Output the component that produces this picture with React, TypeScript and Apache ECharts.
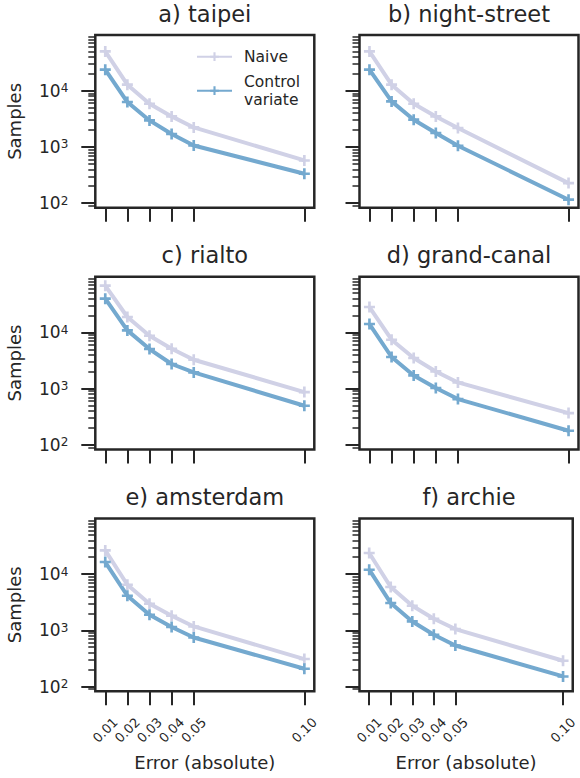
import React, { useEffect, useRef } from 'react';
import * as echarts from 'echarts';

const FONT = 'DejaVu Sans';
const INK = '#262626';
const NAIVE_COLOR = '#d0d1e6';
const CV_COLOR = '#74a9cf';

// x values (absolute error) and tick labels
const ERRORS = [0.01, 0.02, 0.03, 0.04, 0.05, 0.1];
const X_TICKS = [0.01, 0.02, 0.03, 0.04, 0.05, 0.1];
const Y_MAJOR_TICKS = [100, 1000, 10000];
const Y_MINOR_TICKS = [
  90,
  200, 300, 400, 500, 600, 700, 800, 900,
  2000, 3000, 4000, 5000, 6000, 7000, 8000, 9000,
  20000, 30000, 40000, 50000, 60000, 70000, 80000, 90000,
];

const TITLES = ['a) taipei', 'b) night-street', 'c) rialto', 'd) grand-canal', 'e) amsterdam', 'f) archie'];

// samples needed, per scene
const NAIVE_TAIPEI = [50100, 12800, 5870, 3490, 2220, 574];
const CV_TAIPEI = [23700, 6290, 2960, 1694, 1061, 333];
const NAIVE_NIGHT_STREET = [50100, 12800, 5870, 3490, 2170, 227];
const CV_NIGHT_STREET = [23700, 6450, 3050, 1765, 1048, 115];
const NAIVE_RIALTO = [67900, 18800, 8730, 5125, 3265, 868];
const CV_RIALTO = [39800, 10860, 5060, 2740, 1940, 495];
const NAIVE_GRAND_CANAL = [28300, 7410, 3500, 2020, 1287, 367];
const CV_GRAND_CANAL = [14100, 3650, 1715, 1023, 651, 178];
const NAIVE_AMSTERDAM = [26400, 6470, 2970, 1816, 1171, 308];
const CV_AMSTERDAM = [16400, 4120, 1892, 1143, 746, 207];
const NAIVE_ARCHIE = [23770, 5890, 2737, 1606, 1052, 287];
const CV_ARCHIE = [11980, 3055, 1438, 833, 537, 151];

const NAIVE = [NAIVE_TAIPEI, NAIVE_NIGHT_STREET, NAIVE_RIALTO, NAIVE_GRAND_CANAL, NAIVE_AMSTERDAM, NAIVE_ARCHIE];
const CV = [CV_TAIPEI, CV_NIGHT_STREET, CV_RIALTO, CV_GRAND_CANAL, CV_AMSTERDAM, CV_ARCHIE];

// layout
const GRID_LEFT = [95.3, 359.5];
const GRID_TOP = [35, 276.7, 518.4];
const GRID_W = 219;
const GRID_H = 172.8;
const TITLE_CENTER = [13.5, 255.2, 496.9];
const X_MIN = 0.0055;
const X_MAX = 0.1045;
const Y_MIN = 82.5;
const Y_MAX = 98000;

const PLUS = 'path://M-1.2,-5H1.2V-1.2H5V1.2H1.2V5H-1.2V1.2H-5V-1.2H-1.2Z';

function buildOption() {
  const grid: any[] = [];
  const xAxis: any[] = [];
  const yAxis: any[] = [];
  const series: any[] = [];
  const title: any[] = [];

  TITLES.forEach((t, i) => {
    const row = Math.floor(i / 2);
    const col = i % 2;
    const left = GRID_LEFT[col];
    const top = GRID_TOP[row];
    const bottomRow = row === 2;
    const leftCol = col === 0;

    grid.push({
      left,
      top,
      width: GRID_W,
      height: GRID_H,
      show: true,
      borderColor: INK,
      borderWidth: 2.5,
      backgroundColor: 'transparent',
    });

    title.push({
      text: t,
      left: left + GRID_W / 2,
      top: TITLE_CENTER[row] - 11,
      textAlign: 'center',
      padding: 0,
      textStyle: { fontFamily: FONT, fontSize: 22.5, fontWeight: 'normal', color: INK, lineHeight: 22 },
    });

    xAxis.push({
      type: 'value',
      gridIndex: i,
      position: 'bottom',
      min: X_MIN,
      max: X_MAX,
      axisLine: { show: false },
      splitLine: { show: false },
      axisTick: { show: true, length: 14, customValues: X_TICKS, lineStyle: { color: INK, width: 2 } },
      axisLabel: {
        show: bottomRow,
        customValues: X_TICKS,
        formatter: (v: number) => v.toFixed(2),
        rotate: 45,
        align: 'center',
        verticalAlign: 'middle',
        margin: 39,
        fontFamily: FONT,
        fontSize: 13,
        color: INK,
      },
      name: bottomRow ? 'Error (absolute)' : '',
      nameLocation: 'middle',
      nameGap: 62,
      nameTextStyle: { fontFamily: FONT, fontSize: 18, color: INK },
    });

    yAxis.push({
      type: 'log',
      logBase: 10,
      gridIndex: i,
      position: 'left',
      min: Y_MIN,
      max: Y_MAX,
      axisLine: { show: false },
      splitLine: { show: false },
      minorTick: { show: false },
      axisTick: { show: true, length: 14, customValues: Y_MAJOR_TICKS, lineStyle: { color: INK, width: 2 } },
      axisLabel: {
        show: leftCol,
        customValues: Y_MAJOR_TICKS,
        formatter: (v: number) => '10{sup|' + Math.round(Math.log10(v)) + '}',
        margin: 27,
        fontFamily: FONT,
        fontSize: 17,
        color: INK,
        rich: {
          sup: { fontFamily: FONT, fontSize: 12, color: INK, verticalAlign: 'top', lineHeight: 12 },
        },
      },
      name: leftCol ? 'Samples' : '',
      nameLocation: 'middle',
      nameGap: 72,
      nameTextStyle: { fontFamily: FONT, fontSize: 18, color: INK },
    });
    yAxis.push({
      type: 'log',
      logBase: 10,
      gridIndex: i,
      position: 'left',
      min: Y_MIN,
      max: Y_MAX,
      axisLine: { show: false },
      splitLine: { show: false },
      axisTick: { show: true, length: 7, customValues: Y_MINOR_TICKS, lineStyle: { color: INK, width: 1.5 } },
      axisLabel: { show: false },
    });

    series.push({
      type: 'line',
      name: 'Naive',
      xAxisIndex: i,
      yAxisIndex: 2 * i,
      data: ERRORS.map((e, k) => [e, NAIVE[i][k]]),
      symbol: PLUS,
      symbolSize: 11,
      showSymbol: true,
      lineStyle: { color: NAIVE_COLOR, width: 4 },
      itemStyle: { color: NAIVE_COLOR },
      emphasis: { disabled: true },
    });
    series.push({
      type: 'line',
      name: 'Control variate',
      xAxisIndex: i,
      yAxisIndex: 2 * i,
      data: ERRORS.map((e, k) => [e, CV[i][k]]),
      symbol: PLUS,
      symbolSize: 11,
      showSymbol: true,
      lineStyle: { color: CV_COLOR, width: 4 },
      itemStyle: { color: CV_COLOR },
      emphasis: { disabled: true },
    });
  });

  return {
    animation: false,
    backgroundColor: '#ffffff',
    textStyle: { fontFamily: FONT },
    title,
    grid,
    xAxis,
    yAxis,
    series,
    legend: {
      data: ['Naive', 'Control variate'],
      orient: 'vertical',
      left: 196,
      top: 47.7,
      padding: 0,
      itemWidth: 35,
      itemHeight: 11,
      itemGap: 7,
      selectedMode: false,
      formatter: (n: string) => (n === 'Control variate' ? 'Control\nvariate' : n),
      textStyle: { fontFamily: FONT, fontSize: 15.5, color: INK, lineHeight: 18, padding: [0, 0, 0, 7] },
    },
  };
}

export default function App() {
  const ref = useRef<HTMLDivElement>(null);
  useEffect(() => {
    const chart = echarts.init(ref.current!, null, { renderer: 'svg' });
    chart.setOption(buildOption() as any);
    return () => chart.dispose();
  }, []);
  return (
    <div
      ref={ref}
      style={{ position: 'absolute', left: 0, top: 0, width: 580, height: 778, background: '#fff' }}
    />
  );
}
